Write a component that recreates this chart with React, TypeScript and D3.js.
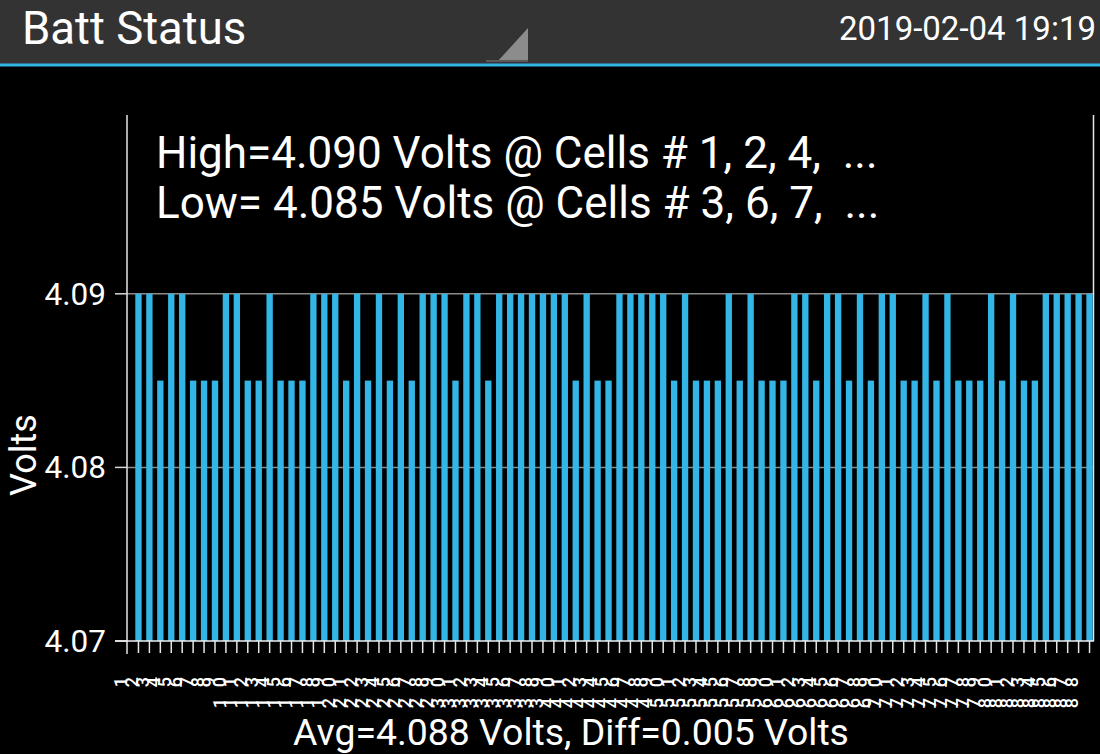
import React from 'react';
import * as d3 from 'd3';

// ── Data ──────────────────────────────────────────────────────────────────────
const H = 4.09;
const L = 4.085;
const cellVolts: number[] = [
  H, H, L, H, H, L, L, L, H, H, L, L, H, L, L, L, H, H, H, L, H, L,
  H, L, H, L, H, H, H, L, H, H, L, H, H, H, H, H, H, H, L, H, L, L,
  H, H, H, H, H, L, H, L, L, L, H, L, H, L, L, L, H, H, L, H, H, L,
  H, L, H, H, L, L, H, L, H, L, L, L, H, L, H, L, L, H, H, H, H, H,
];
const cellLabels: string[] = cellVolts.map((_, i) => String(i + 1));
const yTicks: number[] = [4.07, 4.08, 4.09];

const TITLE = 'Batt Status';
const STAMP = '2019-02-04 19:19';
const HIGH_TEXT = 'High=4.090 Volts @ Cells # 1, 2, 4,  ...';
const LOW_TEXT = 'Low= 4.085 Volts @ Cells # 3, 6, 7,  ...';
const FOOT_TEXT = 'Avg=4.088 Volts, Diff=0.005 Volts';

// ── Layout ────────────────────────────────────────────────────────────────────
const W = 1100;
const HGT = 754;
const PLOT = { left: 127, right: 1094, top: 115, bottom: 641 };
const BAR = '#33b5e5';
const FONT = 'Roboto, "Noto Sans", sans-serif';

export default function App() {
  const x = d3
    .scaleBand<string>()
    .domain(cellLabels)
    .range([133, 1095])
    .paddingInner(0.42)
    .paddingOuter(0.21);

  const y = d3.scaleLinear().domain([4.07, 4.1003]).range([PLOT.bottom, PLOT.top]);
  const fmt = d3.format('.2f');

  // rotated cell numbers: one digit "row" every 21px
  const labelSize = 18;
  const digitAdv = labelSize * 0.5615;
  const letterGap = 21 - digitAdv;

  return (
    <div style={{ position: 'absolute', left: 0, top: 0, width: W, height: HGT }}>
      <svg width={W} height={HGT} style={{ display: 'block', background: '#000', fontFamily: FONT }}>
        {/* header bar */}
        <rect x={0} y={0} width={W} height={64} fill="#333333" />
        <rect x={0} y={63.5} width={W} height={3} fill={BAR} />
        <text x={22} y={44} fontSize={45.5} fill="#fff">{TITLE}</text>
        <text x={1096} y={40} fontSize={33} fill="#fff" textAnchor="end">{STAMP}</text>
        <polygon points="528,28 528,62 497,62" fill="#8c8c8c" />
        <rect x={486} y={60} width={42} height={2} fill="#5a5a5a" />

        {/* grid */}
        {yTicks.slice(1).map((t) => (
          <line key={t} x1={PLOT.left} x2={PLOT.right} y1={y(t)} y2={y(t)} stroke="#8a8a8a" strokeWidth={1.5} />
        ))}

        {/* right border */}
        <line x1={PLOT.right - 0.5} x2={PLOT.right - 0.5} y1={PLOT.top} y2={PLOT.bottom} stroke="#e6e6e6" strokeWidth={1.5} />

        {/* bars */}
        {cellVolts.map((v, i) => (
          <rect
            key={i}
            x={x(cellLabels[i])}
            y={y(v)}
            width={x.bandwidth()}
            height={y(4.07) - y(v)}
            fill={BAR}
          />
        ))}

        {/* y axis */}
        <line x1={PLOT.left} x2={PLOT.left} y1={PLOT.top} y2={654} stroke="#e6e6e6" strokeWidth={1.5} />
        {yTicks.map((t) => (
          <g key={t}>
            <line x1={115} x2={PLOT.left} y1={y(t)} y2={y(t)} stroke="#d8d8d8" strokeWidth={1.5} />
            <text x={106} y={y(t) + 11} fontSize={31.5} fill="#fff" textAnchor="end">{fmt(t)}</text>
          </g>
        ))}
        <text
          transform={`translate(36,455) rotate(-90)`}
          fontSize={36}
          fill="#fff"
          textAnchor="middle"
        >
          Volts
        </text>

        {/* x axis */}
        <line x1={115} x2={PLOT.right} y1={PLOT.bottom} y2={PLOT.bottom} stroke="#f0f0f0" strokeWidth={1.5} />
        {cellLabels.map((c) => {
          const cx = (x(c) ?? 0) + x.bandwidth() / 2;
          return (
            <g key={c}>
              <line x1={cx} x2={cx} y1={PLOT.bottom} y2={653} stroke="#e6e6e6" strokeWidth={1.5} />
              <text
                transform={`translate(${cx - 11.3},${682 - letterGap - digitAdv / 2}) rotate(-90)`}
                fontSize={labelSize}
                fontWeight={500}
                fill="#fff"
                textAnchor="end"
                letterSpacing={letterGap}
              >
                {c}
              </text>
            </g>
          );
        })}

        {/* summary text */}
        <text x={156} y={168} fontSize={44} fill="#fff" style={{ whiteSpace: 'pre' }}>{HIGH_TEXT}</text>
        <text x={156} y={218} fontSize={44} fill="#fff" style={{ whiteSpace: 'pre' }}>{LOW_TEXT}</text>
        <text x={571} y={745} fontSize={37.4} fill="#fff" textAnchor="middle">{FOOT_TEXT}</text>
      </svg>
    </div>
  );
}
